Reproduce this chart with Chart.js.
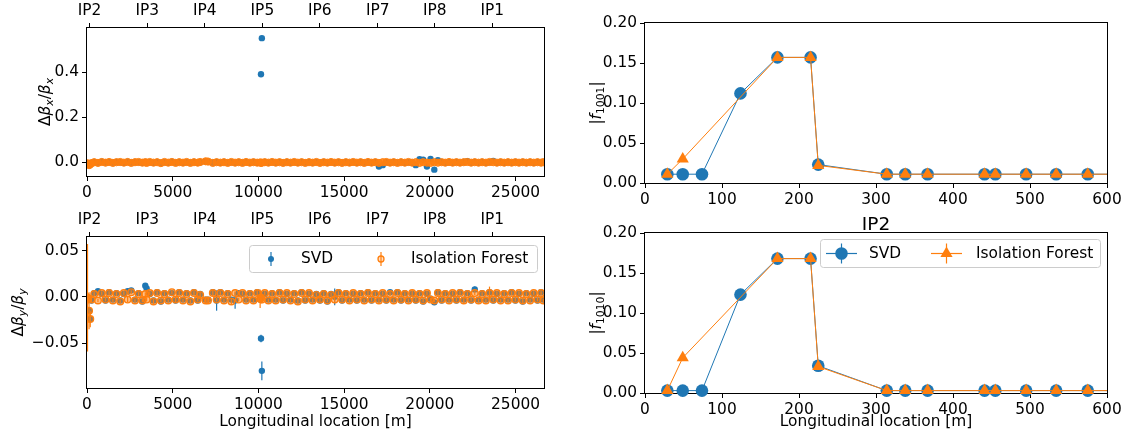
<!DOCTYPE html>
<html>
<head>
<meta charset="utf-8">
<title>Beta-beating and IP2 coupling</title>
<script src="https://cdn.jsdelivr.net/npm/chart.js@4.4.1/dist/chart.umd.min.js"></script>
<style>
  html, body { margin: 0; padding: 0; background: #fff; }
  #fig { position: relative; width: 1129px; height: 432px; overflow: hidden; }
  #fig canvas { position: absolute; }
</style>
</head>
<body>
<div id="fig">
  <canvas id="betaX" width="560" height="210" style="left:0;top:0"></canvas>
  <canvas id="betaY" width="560" height="232" style="left:0;top:200px"></canvas>
  <canvas id="f1001" width="569" height="215" style="left:560px;top:0"></canvas>
  <canvas id="f1010" width="569" height="232" style="left:560px;top:200px"></canvas>
</div>
<script>
const BLUE = '#1f77b4';
const ORANGE = '#ff7f0e';
const FONT = "'DejaVu Sans', 'Liberation Sans', sans-serif";
const FS = 15.4;

// BPM positions around the ring [m]
const bpmS = [30, 60, 120, 190, 260, 420, 640, 860, 1080, 1290,
  1510, 1720, 1940, 2150, 2370, 2580, 2800, 3010, 3230, 3400,
  3480, 3660, 3880, 4090, 4310, 4520, 4740, 4950, 5170, 5380,
  5600, 5810, 6030, 6240, 6460, 6600, 6920, 7060, 7340, 7560,
  7780, 7990, 8210, 8420, 8640, 8850, 9070, 9280, 9500, 9710,
  9930, 10100, 10150, 10200, 10370, 10580, 10800, 11010, 11230, 11440,
  11660, 11870, 12090, 12300, 12520, 12730, 12950, 13160, 13380, 13590,
  13810, 14020, 14240, 14450, 14670, 14880, 15100, 15310, 15530, 15740,
  15960, 16170, 16390, 16600, 16820, 17030, 17250, 17460, 17680, 17890,
  18110, 18320, 18540, 18750, 18970, 19180, 19400, 19610, 19830, 20040,
  20260, 20470, 20690, 20900, 21120, 21330, 21550, 21760, 21980, 22190,
  22410, 22620, 22840, 23050, 23270, 23480, 23700, 23910, 24130, 24340,
  24560, 24770, 24990, 25200, 25420, 25630, 25850, 26060, 26280, 26490,
  26620];

// horizontal beta-beating
const dbxSvd = [-0.003, -0.005, -0.010, -0.007, -0.002, 0.002, -0.001, 0.003, 0.000, 0.002,
  -0.001, 0.002, 0.001, -0.002, 0.003, -0.001, 0.002, 0.001, -0.002, 0.002,
  -0.001, 0.001, -0.002, 0.002, -0.002, 0.001, -0.002, 0.003, -0.001, 0.002,
  -0.002, 0.001, -0.001, 0.002, -0.002, 0.001, 0.004, 0.003, -0.001, 0.002,
  -0.002, 0.002, -0.001, 0.001, -0.002, 0.002, -0.001, 0.001, -0.002, 0.002,
  -0.002, 0.001, 0.390, 0.550, 0.002, -0.002, 0.001, -0.002, 0.002, -0.001,
  0.002, -0.002, 0.001, -0.002, 0.002, -0.001, 0.002, -0.002, 0.001, -0.001,
  0.002, -0.002, 0.001, -0.002, 0.002, -0.001, 0.002, -0.002, 0.001, -0.002,
  0.002, -0.001, 0.001, -0.002, 0.002, -0.018, -0.012, 0.001, -0.002, 0.002,
  -0.001, 0.002, -0.002, 0.001, -0.002, -0.012, 0.014, 0.012, -0.018, 0.015,
  -0.032, 0.010, 0.002, -0.002, 0.001, -0.002, 0.002, -0.002, 0.002, 0.005,
  -0.002, 0.002, -0.002, 0.002, -0.002, 0.001, 0.007, -0.002, 0.002, -0.002,
  0.002, -0.002, 0.002, -0.002, 0.002, -0.002, 0.002, -0.002, 0.002, -0.002,
  0.002];
const dbxIf = [-0.004, -0.006, -0.012, -0.008, -0.003, 0.001, -0.002, 0.002, -0.001, 0.002,
  -0.002, 0.001, 0.002, -0.001, 0.002, -0.002, 0.001, 0.002, -0.001, 0.001,
  -0.002, 0.002, -0.001, 0.001, -0.003, 0.002, -0.001, 0.002, -0.002, 0.001,
  -0.001, 0.002, -0.002, 0.001, -0.001, 0.002, 0.005, 0.004, -0.002, 0.001,
  -0.001, 0.001, -0.002, 0.002, -0.001, 0.001, -0.002, 0.002, -0.001, 0.001,
  -0.001, 0.000, -0.002, -0.001, 0.001, -0.001, 0.002, -0.001, 0.001, -0.002,
  0.001, -0.001, 0.002, -0.001, 0.001, -0.002, 0.001, -0.001, 0.002, -0.002,
  0.001, -0.001, 0.002, -0.001, 0.001, -0.002, 0.001, -0.001, 0.002, -0.001,
  0.001, -0.002, 0.002, -0.001, 0.001, -0.002, 0.001, 0.002, -0.001, 0.001,
  -0.002, 0.001, -0.001, 0.002, -0.001, 0.001, -0.002, 0.001, -0.001, -0.002,
  0.001, -0.001, 0.001, -0.001, 0.002, -0.001, 0.001, -0.001, 0.001, 0.002,
  -0.001, 0.001, -0.001, 0.001, -0.001, 0.002, 0.001, -0.001, 0.001, -0.001,
  0.001, -0.001, 0.001, -0.001, 0.001, -0.001, 0.001, -0.001, 0.001, -0.001,
  0.001];

// vertical beta-beating with errors
const dbySvd = [-0.002, -0.001, -0.015, -0.024, -0.004, 0.004, 0.006, 0.003, -0.004, 0.005,
  -0.003, 0.004, -0.004, 0.003, 0.006, 0.007, -0.003, 0.004, -0.005, 0.012,
  0.009, 0.003, -0.004, 0.005, -0.005, 0.004, -0.003, 0.004, -0.004, 0.005,
  -0.003, 0.004, -0.004, 0.005, -0.004, 0.003, -0.003, -0.003, 0.005, -0.004,
  0.005, -0.003, 0.004, -0.003, -0.004, 0.004, 0.003, -0.003, 0.004, -0.003,
  0.005, -0.003, -0.045, -0.080, 0.003, -0.003, 0.004, -0.003, 0.005, -0.004,
  0.003, -0.003, 0.004, -0.004, 0.005, -0.004, 0.003, -0.003, 0.003, -0.004,
  0.004, -0.005, 0.003, 0.000, 0.005, -0.004, 0.004, -0.003, 0.003, -0.004,
  0.004, -0.003, 0.005, -0.004, 0.004, -0.003, 0.003, -0.004, 0.005, -0.003,
  0.005, -0.004, 0.004, -0.003, 0.003, -0.004, 0.004, -0.005, 0.003, -0.002,
  -0.006, 0.005, -0.004, 0.004, -0.003, 0.003, -0.004, 0.005, -0.003, 0.004,
  -0.004, 0.008, -0.003, 0.004, -0.003, 0.005, -0.004, 0.003, -0.003, 0.004,
  -0.003, 0.005, -0.004, 0.003, -0.005, 0.004, -0.003, 0.003, -0.004, 0.005,
  -0.003];
const dbySvdErr = [0.003, 0.003, 0.004, 0.004, 0.002, 0.002, 0.002, 0.002, 0.002, 0.002,
  0.002, 0.002, 0.002, 0.002, 0.002, 0.002, 0.002, 0.002, 0.002, 0.002,
  0.002, 0.002, 0.002, 0.002, 0.003, 0.002, 0.002, 0.002, 0.002, 0.002,
  0.002, 0.002, 0.002, 0.002, 0.002, 0.002, 0.002, 0.002, 0.002, 0.011,
  0.002, 0.002, 0.002, 0.002, 0.009, 0.002, 0.002, 0.002, 0.002, 0.002,
  0.002, 0.002, 0.004, 0.010, 0.002, 0.002, 0.002, 0.002, 0.002, 0.002,
  0.002, 0.002, 0.002, 0.002, 0.002, 0.002, 0.002, 0.002, 0.002, 0.003,
  0.002, 0.002, 0.002, 0.009, 0.002, 0.002, 0.002, 0.002, 0.002, 0.002,
  0.002, 0.002, 0.002, 0.002, 0.002, 0.002, 0.002, 0.002, 0.002, 0.002,
  0.002, 0.002, 0.002, 0.002, 0.002, 0.002, 0.002, 0.002, 0.002, 0.002,
  0.002, 0.002, 0.002, 0.002, 0.002, 0.002, 0.002, 0.002, 0.002, 0.002,
  0.002, 0.003, 0.002, 0.002, 0.002, 0.002, 0.002, 0.002, 0.002, 0.002,
  0.002, 0.002, 0.002, 0.002, 0.002, 0.002, 0.002, 0.002, 0.002, 0.002,
  0.002];
const dbyIf = [-0.001, -0.002, -0.015, -0.024, -0.003, 0.003, -0.004, 0.004, -0.003, 0.004,
  -0.004, 0.003, -0.005, 0.004, -0.003, 0.005, -0.004, 0.003, -0.004, 0.003,
  -0.003, 0.004, -0.005, 0.004, -0.004, 0.003, -0.004, 0.005, -0.003, 0.004,
  -0.004, 0.003, -0.005, 0.004, -0.003, 0.002, -0.004, -0.004, 0.004, -0.003,
  0.004, -0.004, 0.003, -0.005, 0.004, -0.003, 0.004, -0.004, 0.003, -0.004,
  0.004, -0.002, -0.001, -0.003, 0.004, -0.004, 0.003, -0.004, 0.004, -0.003,
  0.004, -0.004, 0.003, -0.005, 0.004, -0.003, 0.004, -0.004, 0.002, -0.003,
  0.003, -0.004, 0.002, -0.003, 0.004, -0.003, 0.003, -0.004, 0.004, -0.003,
  0.003, -0.004, 0.004, -0.003, 0.003, -0.004, 0.004, -0.003, 0.003, -0.004,
  0.004, -0.003, 0.003, -0.004, 0.004, -0.003, 0.003, -0.004, 0.004, -0.003,
  -0.004, 0.004, -0.003, 0.003, -0.004, 0.004, -0.003, 0.004, -0.004, 0.003,
  -0.003, 0.004, -0.004, 0.003, -0.004, 0.004, -0.003, 0.004, -0.004, 0.003,
  -0.004, 0.004, -0.003, 0.004, -0.004, 0.003, -0.004, 0.004, -0.003, 0.004,
  -0.004];
const dbyIfErr = [0.058, 0.006, 0.020, 0.009, 0.003, 0.002, 0.002, 0.002, 0.002, 0.002,
  0.002, 0.002, 0.002, 0.002, 0.003, 0.002, 0.002, 0.002, 0.002, 0.002,
  0.002, 0.002, 0.003, 0.002, 0.002, 0.002, 0.002, 0.002, 0.003, 0.002,
  0.002, 0.002, 0.002, 0.002, 0.002, 0.003, 0.002, 0.002, 0.003, 0.002,
  0.002, 0.002, 0.002, 0.003, 0.002, 0.002, 0.002, 0.002, 0.002, 0.002,
  0.003, 0.010, 0.006, 0.004, 0.002, 0.002, 0.003, 0.002, 0.002, 0.002,
  0.002, 0.002, 0.002, 0.003, 0.002, 0.002, 0.002, 0.002, 0.002, 0.003,
  0.002, 0.002, 0.002, 0.004, 0.002, 0.002, 0.002, 0.002, 0.002, 0.002,
  0.002, 0.002, 0.003, 0.002, 0.002, 0.003, 0.002, 0.002, 0.002, 0.002,
  0.002, 0.002, 0.002, 0.002, 0.003, 0.002, 0.002, 0.002, 0.002, 0.002,
  0.002, 0.003, 0.002, 0.002, 0.002, 0.002, 0.002, 0.002, 0.003, 0.002,
  0.002, 0.002, 0.002, 0.002, 0.002, 0.007, 0.002, 0.002, 0.002, 0.003,
  0.002, 0.002, 0.002, 0.002, 0.003, 0.002, 0.002, 0.002, 0.002, 0.002,
  0.002];

const ringMax = 26659;
const ringTicks = [0, 5000, 10000, 15000, 20000, 25000];
const ipNames = ['IP2', 'IP3', 'IP4', 'IP5', 'IP6', 'IP7', 'IP8', 'IP1'];
const ipS = [150, 3520, 6870, 10230, 13580, 16960, 20290, 23640];

// coupling RDT amplitudes around IP2
const rdtSvdS = [29, 49, 74, 124, 172, 215, 225, 314, 338, 367, 441, 455, 495, 534, 575, 640];
const f1001Svd = [0.011, 0.011, 0.011, 0.112, 0.157, 0.157, 0.023, 0.011, 0.011, 0.011, 0.011, 0.011, 0.011, 0.011, 0.011, 0.011];
const f1010Svd = [0.003, 0.003, 0.003, 0.123, 0.168, 0.168, 0.034, 0.003, 0.003, 0.003, 0.003, 0.003, 0.003, 0.003, 0.003, 0.003];
const rdtIfS = [29, 49, 172, 215, 225, 314, 338, 367, 441, 455, 495, 534, 575, 640];
const f1001If = [0.011, 0.030, 0.157, 0.157, 0.022, 0.011, 0.011, 0.011, 0.011, 0.011, 0.011, 0.011, 0.011, 0.011];
const f1010If = [0.003, 0.044, 0.168, 0.168, 0.033, 0.003, 0.003, 0.003, 0.003, 0.003, 0.003, 0.003, 0.003, 0.003];
const rdtTicks = [0, 100, 200, 300, 400, 500, 600];
const ampTicks = [0, 0.05, 0.10, 0.15, 0.20];

Chart.defaults.font.family = FONT;
Chart.defaults.font.size = FS;
Chart.defaults.color = '#000';

function makeAxis(o) {
  const horizontal = o.position === 'top' || o.position === 'bottom';
  return {
    type: 'linear',
    position: o.position,
    min: o.min,
    max: o.max,
    afterBuildTicks: scale => { scale.ticks = o.ticks.map(v => ({ value: v })); },
    afterFit: scale => { if (horizontal) scale.height = o.size; else scale.width = o.size; },
    border: { display: false },
    grid: { drawOnChartArea: false, drawTicks: true, tickLength: 5, color: '#000', lineWidth: 1 },
    ticks: { autoSkip: false, maxRotation: 0, minRotation: 0, padding: 3, color: '#000', callback: o.label },
    title: o.title
      ? { display: true, text: o.title, color: '#000', padding: { top: 0, bottom: 1 } }
      : { display: false }
  };
}

// SVD goes underneath, isolation forest on top (lower order is drawn last)
function points(label, xs, ys, style) {
  return Object.assign({ label, order: label === 'SVD' ? 1 : 0, data: xs.map((x, i) => ({ x, y: ys[i] })) }, style);
}

// vertical error bars taken from dataset.errors
const errorBars = {
  id: 'errorBars',
  beforeDatasetDraw(chart, args) {
    const ds = chart.data.datasets[args.index];
    if (!ds.errors) return;
    const ctx = chart.ctx, y = chart.scales.y, a = chart.chartArea;
    ctx.save();
    ctx.beginPath();
    ctx.rect(a.left, a.top, a.right - a.left, a.bottom - a.top);
    ctx.clip();
    ctx.strokeStyle = ds.barColor;
    ctx.lineWidth = 1.2;
    args.meta.data.forEach((pt, i) => {
      const v = ds.data[i].y, e = ds.errors[i];
      ctx.beginPath();
      ctx.moveTo(pt.x, y.getPixelForValue(v - e));
      ctx.lineTo(pt.x, y.getPixelForValue(v + e));
      ctx.stroke();
    });
    ctx.restore();
  }
};

// text with italic / subscript pieces, rotated for y titles
function richText(ctx, parts, cx, cy) {
  const fonts = parts.map(p => (p.it ? 'italic ' : '') + (p.sub ? FS * 0.7 : FS) + 'px ' + FONT);
  const widths = parts.map((p, i) => { ctx.font = fonts[i]; return ctx.measureText(p.t).width; });
  const total = widths.reduce((s, w) => s + w, 0);
  ctx.save();
  ctx.translate(cx, cy);
  ctx.rotate(-Math.PI / 2);
  ctx.fillStyle = '#000';
  ctx.textBaseline = 'alphabetic';
  let x = -total / 2;
  parts.forEach((p, i) => {
    ctx.font = fonts[i];
    ctx.fillText(p.t, x, FS * 0.36 + (p.sub ? FS * 0.24 : 0));
    x += widths[i];
  });
  ctx.restore();
}

function roundBox(ctx, x, y, w, h, r) {
  ctx.beginPath();
  ctx.moveTo(x + r, y);
  ctx.lineTo(x + w - r, y); ctx.arcTo(x + w, y, x + w, y + r, r);
  ctx.lineTo(x + w, y + h - r); ctx.arcTo(x + w, y + h, x + w - r, y + h, r);
  ctx.lineTo(x + r, y + h); ctx.arcTo(x, y + h, x, y + h - r, r);
  ctx.lineTo(x, y + r); ctx.arcTo(x, y, x + r, y, r);
  ctx.closePath();
}

function marker(ctx, m, x, y) {
  ctx.beginPath();
  if (m.shape === 'triangle') {
    for (let k = 0; k < 3; k++) {
      const ang = k * 2 * Math.PI / 3;
      const px = x + Math.sin(ang) * m.r, py = y - Math.cos(ang) * m.r;
      if (k === 0) ctx.moveTo(px, py); else ctx.lineTo(px, py);
    }
    ctx.closePath();
  } else {
    ctx.arc(x, y, m.r, 0, 2 * Math.PI);
  }
  ctx.fillStyle = m.fill;
  ctx.fill();
  if (m.stroke) { ctx.strokeStyle = m.stroke; ctx.lineWidth = 1.3; ctx.stroke(); }
}

function drawLegend(ctx, lg) {
  ctx.save();
  roundBox(ctx, lg.x, lg.y, lg.w, lg.h, 3);
  ctx.fillStyle = 'rgba(255,255,255,0.8)';
  ctx.fill();
  ctx.strokeStyle = '#cccccc';
  ctx.lineWidth = 1;
  ctx.stroke();
  const cy = lg.y + lg.h / 2;
  lg.items.forEach(it => {
    ctx.strokeStyle = it.color;
    ctx.lineWidth = 1.2;
    if (it.line) {
      ctx.beginPath(); ctx.moveTo(it.mx - it.line, cy); ctx.lineTo(it.mx + it.line, cy); ctx.stroke();
    }
    ctx.beginPath(); ctx.moveTo(it.mx, cy - it.bar); ctx.lineTo(it.mx, cy + it.bar); ctx.stroke();
    marker(ctx, it.marker, it.mx, cy);
    ctx.fillStyle = '#000';
    ctx.font = FS + 'px ' + FONT;
    ctx.textBaseline = 'middle';
    ctx.textAlign = 'left';
    ctx.fillText(it.text, it.tx, cy);
  });
  ctx.restore();
}

function decor(cfg) {
  return {
    id: 'decor',
    beforeDatasetsDraw(chart) {
      const ctx = chart.ctx, a = chart.chartArea;
      ctx.save();
      ctx.strokeStyle = '#000';
      ctx.lineWidth = 1;
      ctx.strokeRect(Math.round(a.left) - 0.5, Math.round(a.top) - 0.5,
        Math.round(a.right - a.left) + 1, Math.round(a.bottom - a.top) + 1);
      ctx.restore();
    },
    afterDraw(chart) {
      const ctx = chart.ctx, a = chart.chartArea;
      richText(ctx, cfg.yTitle, cfg.yTitleX, (a.top + a.bottom) / 2);
      if (cfg.legend) drawLegend(ctx, cfg.legend);
      if (cfg.title) {
        ctx.save();
        ctx.fillStyle = '#000';
        ctx.font = '18.5px ' + FONT;
        ctx.textAlign = 'center';
        ctx.textBaseline = 'middle';
        ctx.fillText(cfg.title, (a.left + a.right) / 2, a.top - 8);
        ctx.restore();
      }
    }
  };
}

const baseOptions = pad => ({
  responsive: false,
  animation: false,
  events: [],
  layout: { padding: pad },
  plugins: { legend: { display: false }, tooltip: { enabled: false } }
});

const minusFmt = v => (v < 0 ? '\u2212' : '') + Math.abs(v).toFixed(2);

// horizontal beta-beating
new Chart(document.getElementById('betaX'), {
  type: 'scatter',
  data: {
    datasets: [
      points('SVD', bpmS, dbxSvd, { pointRadius: 3.2, pointBackgroundColor: BLUE, pointBorderWidth: 0 }),
      points('Isolation Forest', bpmS, dbxIf, {
        pointRadius: 3.6, pointBackgroundColor: 'rgba(255,127,14,0.85)', pointBorderColor: ORANGE, pointBorderWidth: 1
      })
    ]
  },
  options: Object.assign(baseOptions({ left: 0, right: 16, top: 0, bottom: 0 }), {
    scales: {
      x: makeAxis({ position: 'bottom', min: 0, max: ringMax, ticks: ringTicks, size: 34, label: v => String(v) }),
      ip: makeAxis({ position: 'top', min: 0, max: ringMax, ticks: ipS, size: 28, label: (v, i) => ipNames[i] }),
      y: makeAxis({ position: 'left', min: -0.06, max: 0.595, ticks: [0, 0.2, 0.4], size: 87, label: v => v.toFixed(1) })
    }
  }),
  plugins: [decor({
    yTitleX: 44,
    yTitle: [{ t: '\u0394' }, { t: '\u03b2', it: 1 }, { t: 'x', it: 1, sub: 1 }, { t: '/' }, { t: '\u03b2', it: 1 }, { t: 'x', it: 1, sub: 1 }]
  })]
});

// vertical beta-beating
new Chart(document.getElementById('betaY'), {
  type: 'scatter',
  data: {
    datasets: [
      points('SVD', bpmS, dbySvd, {
        errors: dbySvdErr, barColor: BLUE, pointRadius: 3.2, pointBackgroundColor: BLUE, pointBorderWidth: 0
      }),
      points('Isolation Forest', bpmS, dbyIf, {
        errors: dbyIfErr, barColor: ORANGE, pointRadius: 3.3,
        pointBackgroundColor: 'rgba(255,127,14,0.5)', pointBorderColor: ORANGE, pointBorderWidth: 1.4
      })
    ]
  },
  options: Object.assign(baseOptions({ left: 0, right: 16, top: 0, bottom: 0 }), {
    scales: {
      x: makeAxis({ position: 'bottom', min: 0, max: ringMax, ticks: ringTicks, size: 44, label: v => String(v), title: 'Longitudinal location [m]' }),
      ip: makeAxis({ position: 'top', min: 0, max: ringMax, ticks: ipS, size: 37, label: (v, i) => ipNames[i] }),
      y: makeAxis({ position: 'left', min: -0.0985, max: 0.0646, ticks: [-0.05, 0, 0.05], size: 87, label: minusFmt })
    }
  }),
  plugins: [errorBars, decor({
    yTitleX: 17,
    yTitle: [{ t: '\u0394' }, { t: '\u03b2', it: 1 }, { t: 'y', it: 1, sub: 1 }, { t: '/' }, { t: '\u03b2', it: 1 }, { t: 'y', it: 1, sub: 1 }],
    legend: {
      x: 249.5, y: 45.5, w: 288, h: 27,
      items: [
        { text: 'SVD', color: BLUE, mx: 271, bar: 7, tx: 301, marker: { r: 3, fill: BLUE } },
        { text: 'Isolation Forest', color: ORANGE, mx: 381, bar: 7, tx: 411, marker: { r: 3, fill: 'rgba(255,127,14,0.25)', stroke: ORANGE } }
      ]
    }
  })]
});

function rdtSets(svdY, ifY) {
  const clip = { left: 8, top: 8, right: 0, bottom: 8 };
  return [
    points('SVD', rdtSvdS, svdY, {
      showLine: true, borderColor: BLUE, borderWidth: 1, clip,
      pointStyle: 'circle', pointRadius: 6.3, pointBackgroundColor: BLUE, pointBorderWidth: 0
    }),
    points('Isolation Forest', rdtIfS, ifY, {
      showLine: true, borderColor: ORANGE, borderWidth: 1, clip,
      pointStyle: 'triangle', pointRadius: 7, pointBackgroundColor: ORANGE, pointBorderWidth: 0
    })
  ];
}

new Chart(document.getElementById('f1001'), {
  type: 'scatter',
  data: { datasets: rdtSets(f1001Svd, f1001If) },
  options: Object.assign(baseOptions({ left: 0, right: 22, top: 23, bottom: 0 }), {
    scales: {
      x: makeAxis({ position: 'bottom', min: 0, max: 600, ticks: rdtTicks, size: 32, label: v => String(v) }),
      y: makeAxis({ position: 'left', min: 0, max: 0.2, ticks: ampTicks, size: 85, label: v => v.toFixed(2) })
    }
  }),
  plugins: [decor({
    yTitleX: 35,
    yTitle: [{ t: '|' }, { t: 'f', it: 1 }, { t: '1001', sub: 1 }, { t: '|' }]
  })]
});

new Chart(document.getElementById('f1010'), {
  type: 'scatter',
  data: { datasets: rdtSets(f1010Svd, f1010If) },
  options: Object.assign(baseOptions({ left: 0, right: 22, top: 33, bottom: 0 }), {
    scales: {
      x: makeAxis({ position: 'bottom', min: 0, max: 600, ticks: rdtTicks, size: 39, label: v => String(v), title: 'Longitudinal location [m]' }),
      y: makeAxis({ position: 'left', min: 0, max: 0.2, ticks: ampTicks, size: 85, label: v => v.toFixed(2) })
    }
  }),
  plugins: [decor({
    yTitleX: 35,
    title: 'IP2',
    yTitle: [{ t: '|' }, { t: 'f', it: 1 }, { t: '1010', sub: 1 }, { t: '|' }],
    legend: {
      x: 260.5, y: 39.5, w: 280, h: 28,
      items: [
        { text: 'SVD', color: BLUE, mx: 281.5, line: 15.5, bar: 10, tx: 309, marker: { r: 6.3, fill: BLUE } },
        { text: 'Isolation Forest', color: ORANGE, mx: 386.5, line: 15.5, bar: 10, tx: 416, marker: { shape: 'triangle', r: 7, fill: ORANGE } }
      ]
    }
  })]
});
</script>
</body>
</html>
